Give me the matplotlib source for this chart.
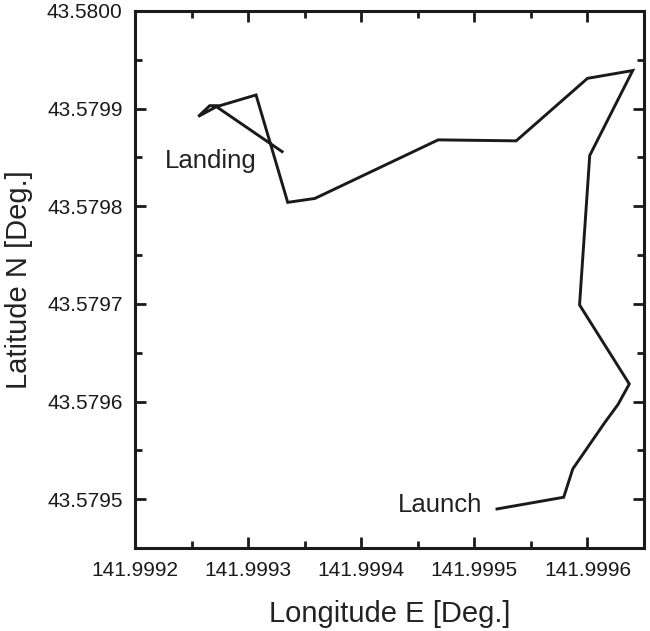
import matplotlib.pyplot as plt
from matplotlib.ticker import FormatStrFormatter, AutoMinorLocator

plt.rcParams['font.family'] = ['Liberation Sans', 'DejaVu Sans']

# flight track, launch -> landing
lon = [141.999520, 141.999579, 141.999587, 141.999615, 141.999627,
       141.999637, 141.999593, 141.999602, 141.999640, 141.999600,
       141.999537, 141.999468, 141.999359, 141.999335, 141.999307,
       141.999275, 141.999266, 141.999256, 141.999272, 141.999330]
lat = [43.579490, 43.579502, 43.579531, 43.579578, 43.579597,
       43.579618, 43.579699, 43.579852, 43.579939, 43.579931,
       43.579867, 43.579868, 43.579808, 43.579804, 43.579914,
       43.579903, 43.579903, 43.579892, 43.579902, 43.579856]

xticks = [141.9992, 141.9993, 141.9994, 141.9995, 141.9996]
yticks = [43.5795, 43.5796, 43.5797, 43.5798, 43.5799, 43.5800]

fig = plt.figure(figsize=(6.5, 6.31), dpi=100)
ax = fig.add_axes([0.2077, 0.1315, 0.9908 - 0.2077, 0.9826 - 0.1315])

ax.plot(lon, lat, color='#1a1a1a', lw=2.1, solid_joinstyle='miter')

ax.set_xlim(141.9992, 141.99965)
ax.set_ylim(43.57945, 43.5800)
ax.set_xticks(xticks)
ax.set_yticks(yticks)
ax.xaxis.set_major_formatter(FormatStrFormatter('%.4f'))
ax.yaxis.set_major_formatter(FormatStrFormatter('%.4f'))
ax.xaxis.set_minor_locator(AutoMinorLocator(2))
ax.yaxis.set_minor_locator(AutoMinorLocator(2))

ax.tick_params(which='both', direction='in', top=True, right=True,
               width=2.0, colors='#1a1a1a', labelsize=15)
ax.tick_params(which='major', length=8, pad=9)
ax.tick_params(which='minor', length=5)
for s in ax.spines.values():
    s.set_linewidth(2.2)
    s.set_color('#1a1a1a')

ax.set_xlabel('Longitude E [Deg.]', fontsize=21, color='#222222', labelpad=15)
ax.set_ylabel('Latitude N [Deg.]', fontsize=21, color='#222222', labelpad=10)

ax.text(141.9992 + (165 - 135) / 113.5 * 1e-4, 43.5795 + (501 - 162) / 98 * 1e-4,
        'Landing', fontsize=18.5, color='#222222', va='center', ha='left')
ax.text(141.9992 + (399 - 135) / 113.5 * 1e-4, 43.5795 + (501 - 507) / 98 * 1e-4,
        'Launch', fontsize=18.5, color='#222222', va='center', ha='left')

fig.savefig('out.png', dpi=100)
